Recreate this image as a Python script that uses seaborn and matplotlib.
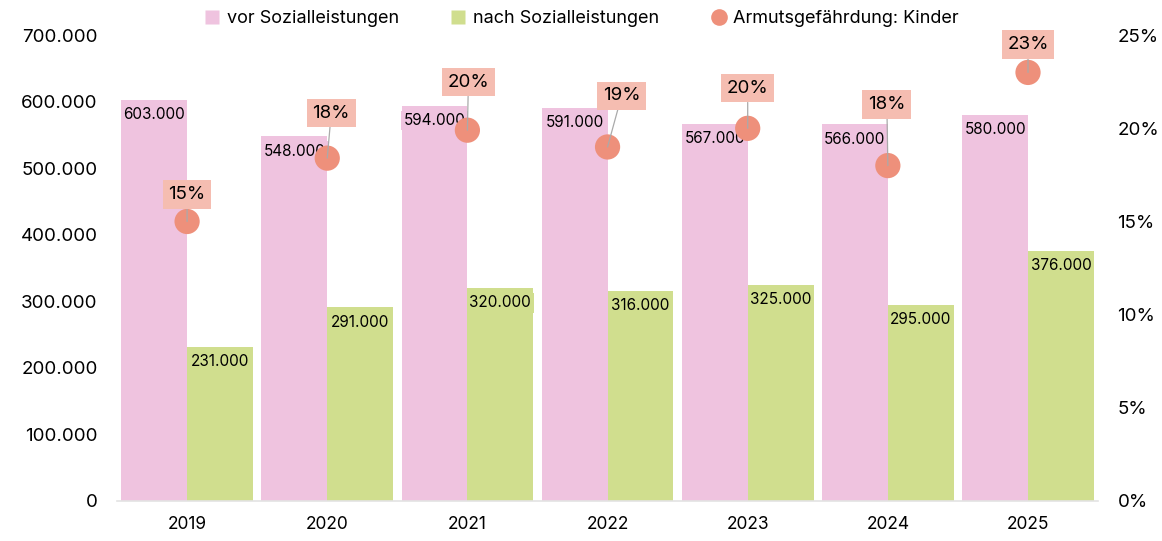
import numpy as np
import pandas as pd
import matplotlib
matplotlib.use("Agg")
import matplotlib.pyplot as plt
from matplotlib.lines import Line2D
from matplotlib.ticker import FuncFormatter
import seaborn as sns

# --- data ---
years = ["2019", "2020", "2021", "2022", "2023", "2024", "2025"]
vor_sozial = [603000, 548000, 594000, 591000, 567000, 566000, 580000]
nach_sozial = [231000, 291000, 320000, 316000, 325000, 295000, 376000]
quote_kinder = [0.15, 0.184, 0.199, 0.19, 0.20, 0.18, 0.23]
series_names = ["vor Sozialleistungen", "nach Sozialleistungen", "Armutsgefährdung: Kinder"]

# label offsets (pixels) for the percentage boxes, relative to each dot
label_offsets = [(0, 27), (4, 45), (1, 48), (14, 51), (0, 40), (-1, 61), (0, 28)]

PINK = "#EFC3DF"
GREEN = "#D0DE8E"
DOT = "#EE907B"
BOX = "#F5BDB1"

sns.set_style("white")
plt.rcParams["font.family"] = ["Inter", "DejaVu Sans"]
plt.rcParams["text.color"] = "black"
plt.rcParams["xtick.color"] = "black"
plt.rcParams["ytick.color"] = "black"


def de_num(v, pos=None):
    return f"{int(round(v)):,}".replace(",", ".")


df = pd.DataFrame({
    "Jahr": years * 2,
    "Wert": vor_sozial + nach_sozial,
    "Serie": [series_names[0]] * len(years) + [series_names[1]] * len(years),
})

fig = plt.figure(figsize=(11.62, 5.41), dpi=100)
ax = fig.add_axes([0.1007, 0.074, 0.8443, 0.861])

sns.barplot(data=df, x="Jahr", y="Wert", hue="Serie", palette=[PINK, GREEN],
            width=0.94, gap=0, saturation=1, linewidth=0, legend=False, ax=ax)

ax.set_ylim(0, 700000)
ax.set_xlim(-0.5, len(years) - 0.5)
ax.yaxis.set_major_formatter(FuncFormatter(de_num))
ax.set_xlabel("")
ax.set_ylabel("")
ax.tick_params(axis="y", length=0, pad=14, labelsize=13.5)
ax.tick_params(axis="x", length=0, pad=11, labelsize=12.5)
for side in ["left", "right", "top"]:
    ax.spines[side].set_visible(False)
ax.spines["bottom"].set_color("#E3E3E3")
ax.spines["bottom"].set_linewidth(1.2)

# value labels inside the bars
ax.bar_label(ax.containers[0], labels=[de_num(v) for v in vor_sozial],
             padding=-16, fontsize=11,
             bbox=dict(boxstyle="square,pad=0.15", fc=PINK, ec="none"))
ax.bar_label(ax.containers[1], labels=[de_num(v) for v in nach_sozial],
             padding=-16, fontsize=11,
             bbox=dict(boxstyle="square,pad=0.15", fc=GREEN, ec="none"))

# secondary axis: poverty risk of children
ax2 = ax.twinx()
xpos = np.arange(len(years))
sns.scatterplot(x=xpos, y=quote_kinder, color=DOT, s=330, edgecolor="none",
                legend=False, ax=ax2, zorder=5)
ax2.set_ylim(0, 0.25)
ax2.set_yticks(np.arange(0, 0.26, 0.05))
ax2.yaxis.set_major_formatter(FuncFormatter(lambda v, p: f"{v * 100:.0f}%"))
ax2.tick_params(axis="y", length=0, pad=14, labelsize=13.5)
ax2.set_ylabel("")
for side in ["left", "right", "top", "bottom"]:
    ax2.spines[side].set_visible(False)

for x, q, (dx, dy) in zip(xpos, quote_kinder, label_offsets):
    ax2.annotate(f"{q * 100:.0f}%", xy=(x, q), xytext=(dx, dy),
                 textcoords="offset pixels", ha="center", va="center",
                 fontsize=13.5, zorder=6,
                 bbox=dict(boxstyle="square,pad=0.3", fc=BOX, ec="none"),
                 arrowprops=dict(arrowstyle="-", color="#AAAAAA", lw=0.9,
                                 shrinkA=0, shrinkB=0))

handles = [
    Line2D([0], [0], marker="s", linestyle="none", markersize=10,
           markerfacecolor=PINK, markeredgecolor="none"),
    Line2D([0], [0], marker="s", linestyle="none", markersize=10,
           markerfacecolor=GREEN, markeredgecolor="none"),
    Line2D([0], [0], marker="o", linestyle="none", markersize=12,
           markerfacecolor=DOT, markeredgecolor="none"),
]
fig.legend(handles, series_names, loc="center", bbox_to_anchor=(0.5, 0.966),
           ncol=3, frameon=False, fontsize=13, handletextpad=0.3,
           columnspacing=2.8, handlelength=1.0)

fig.savefig("out.png", dpi=100)
